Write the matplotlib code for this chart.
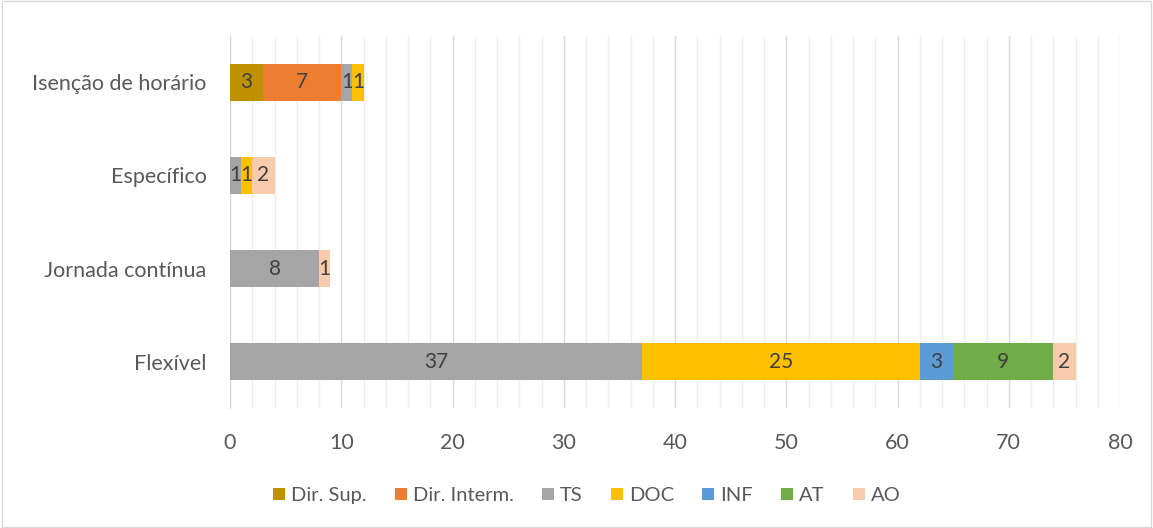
import matplotlib

matplotlib.use("Agg")
import matplotlib.pyplot as plt  # noqa: E402
import numpy as np  # noqa: E402
from matplotlib.ticker import MultipleLocator  # noqa: E402

plt.rcParams["font.family"] = ["Lato", "DejaVu Sans"]

CATEGORIES = ["Flexível", "Jornada contínua", "Específico", "Isenção de horário"]
SERIES = ["Dir. Sup.", "Dir. Interm.", "TS", "DOC", "INF", "AT", "AO"]
COLORS = ["#BF9000", "#ED7D31", "#A5A5A5", "#FFC000", "#5B9BD5", "#70AD47", "#F8CBAD"]

# values per series, in category order (bottom to top)
DIR_SUP = [0, 0, 0, 3]
DIR_INTERM = [0, 0, 0, 7]
TS = [37, 8, 1, 1]
DOC = [25, 0, 1, 1]
INF = [3, 0, 0, 0]
AT = [9, 0, 0, 0]
AO = [2, 1, 2, 0]
VALUES = [DIR_SUP, DIR_INTERM, TS, DOC, INF, AT, AO]

fig = plt.figure(figsize=(11.53, 5.28), dpi=100)
ax = fig.add_axes([0.1995, 0.227, 0.7719, 0.705])

y = np.arange(len(CATEGORIES))
left = np.zeros(len(CATEGORIES))
for name, vals, col in zip(SERIES, VALUES, COLORS):
    vals = np.array(vals, dtype=float)
    bars = ax.barh(y, vals, 0.4, left=left, color=col, label=name, zorder=3)
    labels = [f"{v:g}" if v > 0 else "" for v in vals]
    ax.bar_label(bars, labels=labels, label_type="center", color="#404040", fontsize=15)
    left += vals

ax.set_xlim(0, 80)
ax.set_ylim(-0.5, 3.5)
ax.xaxis.set_major_locator(MultipleLocator(10))
ax.xaxis.set_minor_locator(MultipleLocator(2))
ax.grid(axis="x", which="major", color="#D9D9D9", lw=1.0, zorder=0)
ax.grid(axis="x", which="minor", color="#EDEDED", lw=1.0, zorder=0)
ax.set_yticks(y)
ax.set_yticklabels(CATEGORIES)
for s in ["top", "right", "bottom"]:
    ax.spines[s].set_visible(False)
ax.spines["left"].set_color("#D9D9D9")
ax.tick_params(axis="both", which="both", length=0, labelcolor="#595959", labelsize=15.5)
ax.tick_params(axis="x", pad=18)
ax.tick_params(axis="y", pad=17)

ax.legend(loc="center", bbox_to_anchor=(0.401, -0.235), ncol=7, frameon=False,
          fontsize=14.5, labelcolor="#595959", handlelength=0.6, handleheight=0.6,
          handletextpad=0.3, columnspacing=1.4)

fig.patches.append(plt.Rectangle((0.002, 0.002), 0.996, 0.996, transform=fig.transFigure,
                                 fill=False, edgecolor="#D9D9D9", lw=1))
fig.savefig("out.png", dpi=100)
